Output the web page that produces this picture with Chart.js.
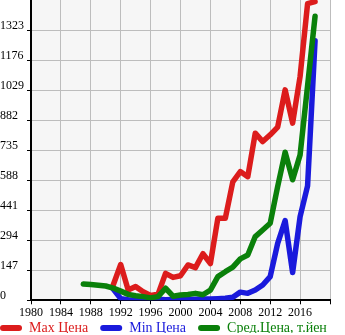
<!DOCTYPE html>
<html>
<head>
<meta charset="utf-8">
<script src="https://cdn.jsdelivr.net/npm/chart.js@4.4.1/dist/chart.umd.min.js"></script>
<style>
  html, body { margin: 0; padding: 0; background: #ffffff; }
  #wrap { width: 345px; height: 335px; }
</style>
</head>
<body>
<div id="wrap"><canvas id="chart" width="345" height="335"></canvas></div>
<script>
// Years on the horizontal axis (one point per year)
const years = [1987, 1988, 1989, 1990, 1991, 1992, 1993, 1994, 1995, 1996,
               1997, 1998, 1999, 2000, 2001, 2002, 2003, 2004, 2005, 2006,
               2007, 2008, 2009, 2010, 2011, 2012, 2013, 2014, 2015, 2016,
               2017, 2018];

// Prices, thousand yen
const maxPrice = [null, null, null, null, 75, 175, 50, 67, 42, 24,
                  30, 132, 112, 120, 173, 160, 228, 180, 402, 402,
                  580, 630, 605, 818, 777, 810, 848, 1030, 867, 1096,
                  1452, 1462];
const minPrice = [null, null, null, null, 55, 8, 3, 2, 4, 2,
                  5, 3, 4, 5, 4, 5, 6, 6, 8, 10,
                  15, 40, 34, 50, 75, 116, 279, 390, 136, 410,
                  560, 1270];
const avgPrice = [80, 77, 74, 70, 60, 45, 29, 22, 18, 12,
                  18, 59, 20, 26, 28, 34, 27, 50, 116, 140,
                  162, 203, 222, 312, 344, 377, 557, 725, 590, 712,
                  1050, 1390];

const seriesLabels = ['Max Цена', 'Min Цена', 'Сред.Цена, т.йен'];
const seriesColors = ['#dc1c1c', '#1a1adc', '#0a800a'];

// Axis ticks
const xTicks = [1980, 1984, 1988, 1992, 1996, 2000, 2004, 2008, 2012, 2016];
const yTicks = [0, 147, 294, 441, 588, 735, 882, 1029, 1176, 1323];

const X_MIN = 1980, X_MAX = 2020, X_STEP = 4;
const Y_MIN = 0, Y_MAX = 1470, Y_STEP = 147;

const SERIF = "'Liberation Serif', 'Times New Roman', serif";
const GRID = '#bdbdbd';

function toPoints(values) {
  return values.map((v, i) => ({ x: years[i], y: v }));
}

// Light grey plotting area
const plotBackground = {
  id: 'plotBackground',
  beforeDraw(chart) {
    const { ctx, chartArea: a } = chart;
    ctx.save();
    ctx.fillStyle = '#f6f6f6';
    ctx.fillRect(a.left, a.top, a.right - a.left, a.bottom - a.top);
    ctx.restore();
  }
};

// Legend row sits flush left along the bottom edge
const legendPlacement = {
  id: 'legendPlacement',
  afterLayout(chart) {
    const lg = chart.legend;
    if (!lg) return;
    const pad = lg.options.labels.padding;
    lg.left = -pad;
    lg.right = 420;
    lg.top = 321 - pad;
    lg.bottom = lg.top + 24;
  }
};

const datasets = [maxPrice, minPrice, avgPrice].map((vals, i) => ({
  label: seriesLabels[i],
  data: toPoints(vals),
  borderColor: seriesColors[i],
  backgroundColor: seriesColors[i],
  order: 2 - i,
  fill: false
}));

new Chart(document.getElementById('chart'), {
  type: 'line',
  data: { datasets },
  options: {
    responsive: false,
    animation: false,
    devicePixelRatio: 1,
    layout: { padding: { left: 0, right: 15, top: 0, bottom: 0 } },
    elements: {
      point: { radius: 0, hoverRadius: 0 },
      line: { borderWidth: 5.5, borderCapStyle: 'round', borderJoinStyle: 'round', tension: 0 }
    },
    scales: {
      x: {
        type: 'linear',
        min: X_MIN,
        max: X_MAX,
        afterBuildTicks(scale) {
          const t = [];
          for (let v = X_MIN; v <= X_MAX; v += X_STEP) t.push({ value: v });
          scale.ticks = t;
        },
        ticks: {
          autoSkip: false,
          maxRotation: 0,
          color: '#000',
          padding: 1,
          font: { family: SERIF, size: 12 },
          callback: (v) => (xTicks.includes(v) ? String(v) : '')
        },
        grid: { color: GRID, tickColor: '#000', tickLength: 4, lineWidth: 1 },
        border: { color: '#000', width: 2 },
        afterFit(scale) {
          scale.paddingLeft = 0;
          scale.paddingRight = 0;
          scale.height = 21.7;
        }
      },
      y: {
        type: 'linear',
        min: Y_MIN,
        max: Y_MAX,
        afterBuildTicks(scale) {
          const t = [];
          for (let v = Y_MIN; v <= Y_MAX; v += Y_STEP) t.push({ value: v });
          scale.ticks = t;
        },
        ticks: {
          color: '#000',
          crossAlign: 'far',
          labelOffset: -4,
          padding: 3,
          font: { family: SERIF, size: 12 },
          callback: (v) => (yTicks.includes(v) ? String(v) : '')
        },
        grid: {
          color: (c) => (c.tick && c.tick.value === Y_MAX ? 'rgba(0,0,0,0)' : GRID),
          tickColor: (c) => (c.tick && c.tick.value === Y_MAX ? 'rgba(0,0,0,0)' : '#000'),
          tickLength: 4,
          lineWidth: 1
        },
        border: { color: '#000', width: 2 },
        afterFit(scale) {
          scale.width = 31;
          scale.paddingTop = 0;
          scale.paddingBottom = 0;
        }
      }
    },
    plugins: {
      tooltip: { enabled: false },
      legend: {
        position: 'bottom',
        align: 'start',
        maxHeight: 13,
        labels: {
          boxWidth: 22,
          boxHeight: 6,
          padding: 12,
          useBorderRadius: true,
          borderRadius: 3,
          font: { family: SERIF, size: 14 },
          generateLabels(chart) {
            return chart.data.datasets.map((ds, i) => ({
              text: ds.label,
              fillStyle: ds.borderColor,
              strokeStyle: ds.borderColor,
              fontColor: ds.borderColor,
              lineWidth: 0,
              borderRadius: 3,
              hidden: false,
              datasetIndex: i
            }));
          }
        }
      }
    }
  },
  plugins: [plotBackground, legendPlacement]
});
</script>
</body>
</html>
